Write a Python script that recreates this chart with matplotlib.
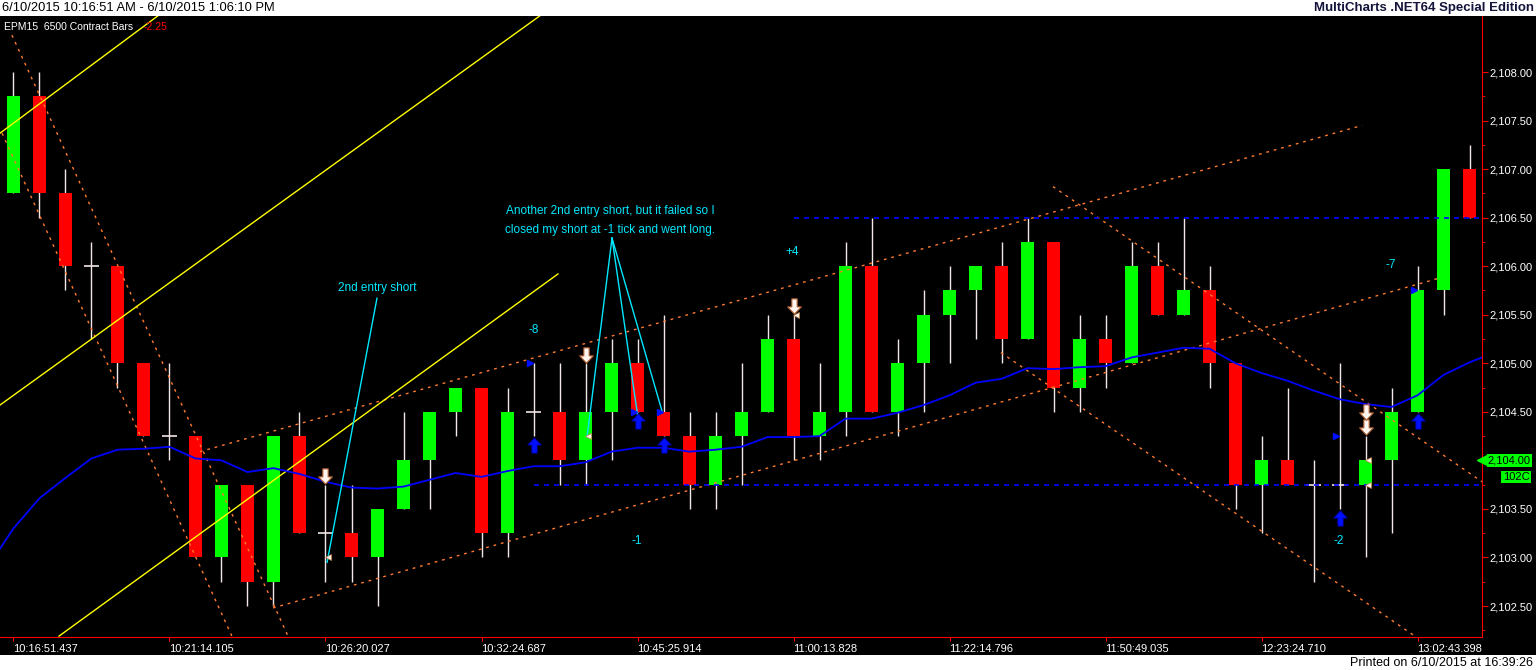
import numpy as np
import matplotlib
matplotlib.use("Agg")
import matplotlib.pyplot as plt
from matplotlib.path import Path
from matplotlib.patches import Rectangle
from matplotlib.ticker import FixedLocator, FuncFormatter

plt.rcParams['font.family'] = ['Liberation Sans', 'DejaVu Sans']

# bar data (6500 contract bars, EPM15)
opens = [2106.75, 2107.75, 2106.75, 2106.00, 2106.00, 2105.00, 2104.25, 2104.25, 2103.00, 2103.75,
         2102.75, 2104.25, 2103.25, 2103.25, 2103.00, 2103.50, 2104.00, 2104.50, 2104.75, 2103.25,
         2104.50, 2104.50, 2104.00, 2104.50, 2105.00, 2104.50, 2104.25, 2103.75, 2104.25, 2104.50,
         2105.25, 2104.25, 2104.50, 2106.00, 2104.50, 2105.00, 2105.50, 2105.75, 2106.00, 2105.25,
         2106.25, 2104.75, 2105.25, 2105.00, 2106.00, 2105.50, 2105.75, 2105.00, 2103.75, 2104.00,
         2103.75, 2103.75, 2103.75, 2104.00, 2104.50, 2105.75, 2107.00]
highs = [2108.00, 2108.00, 2107.00, 2106.25, 2106.00, 2105.00, 2105.00, 2104.25, 2103.75, 2103.75,
         2104.25, 2104.50, 2103.75, 2103.75, 2103.50, 2104.50, 2104.50, 2104.75, 2104.75, 2104.75,
         2105.00, 2105.00, 2105.00, 2105.25, 2105.25, 2105.50, 2104.50, 2104.50, 2105.00, 2105.50,
         2105.50, 2105.00, 2106.25, 2106.50, 2105.25, 2105.75, 2106.00, 2106.00, 2106.25, 2106.50,
         2106.25, 2105.50, 2105.50, 2106.25, 2106.25, 2106.50, 2106.00, 2105.00, 2104.25, 2104.75,
         2104.00, 2105.00, 2104.25, 2104.75, 2106.00, 2107.00, 2107.25]
lows = [2106.75, 2106.50, 2105.75, 2105.25, 2104.75, 2104.25, 2104.00, 2103.00, 2102.75, 2102.50,
        2102.50, 2103.25, 2102.75, 2102.75, 2102.50, 2103.50, 2103.50, 2104.25, 2103.00, 2103.00,
        2104.25, 2103.75, 2103.75, 2104.00, 2104.50, 2104.25, 2103.50, 2103.50, 2103.75, 2104.50,
        2104.00, 2104.00, 2104.25, 2104.50, 2104.25, 2104.50, 2105.00, 2105.25, 2105.00, 2105.25,
        2104.50, 2104.50, 2104.75, 2105.00, 2105.50, 2105.50, 2104.75, 2103.50, 2103.25, 2103.75,
        2102.75, 2103.50, 2103.00, 2103.25, 2104.50, 2105.50, 2106.50]
closes = [2107.75, 2106.75, 2106.00, 2106.00, 2105.00, 2104.25, 2104.25, 2103.00, 2103.75, 2102.75,
          2104.25, 2103.25, 2103.25, 2103.00, 2103.50, 2104.00, 2104.50, 2104.75, 2103.25, 2104.50,
          2104.50, 2104.00, 2104.50, 2105.00, 2104.50, 2104.25, 2103.75, 2104.25, 2104.50, 2105.25,
          2104.25, 2104.50, 2106.00, 2104.50, 2105.00, 2105.50, 2105.75, 2106.00, 2105.25, 2106.25,
          2104.75, 2105.25, 2105.00, 2106.00, 2105.50, 2105.75, 2105.00, 2103.75, 2104.00, 2103.75,
          2103.75, 2103.75, 2104.00, 2104.50, 2105.75, 2107.00, 2106.50]

# moving average, read per bar (first/last points at chart edges)
ma_x = [-0.52] + list(range(57)) + [56.48]
ma_vals = [2103.09, 2103.30, 2103.61, 2103.82, 2104.02, 2104.11, 2104.12, 2104.14, 2104.02, 2104.00, 2103.88,
           2103.92, 2103.86, 2103.78, 2103.72, 2103.71, 2103.73, 2103.80, 2103.87, 2103.83, 2103.89,
           2103.94, 2103.94, 2103.98, 2104.09, 2104.13, 2104.13, 2104.09, 2104.11, 2104.14, 2104.24,
           2104.24, 2104.25, 2104.43, 2104.43, 2104.49, 2104.57, 2104.67, 2104.80, 2104.84, 2104.95,
           2104.94, 2104.96, 2104.97, 2105.06, 2105.11, 2105.16, 2105.15, 2105.00, 2104.90, 2104.82,
           2104.72, 2104.63, 2104.58, 2104.55, 2104.67, 2104.88, 2105.01, 2105.06]

tick_bars = [0, 6, 12, 18, 24, 30, 36, 42, 48, 54]
tick_labels = ['10:16:51.437', '10:21:14.105', '10:26:20.027', '10:32:24.687', '10:45:25.914',
               '11:00:13.828', '11:22:14.796', '11:50:49.035', '12:23:24.710', '13:02:43.398']
price_ticks = [2102.5, 2103.0, 2103.5, 2104.0, 2104.5, 2105.0, 2105.5, 2106.0, 2106.5, 2107.0,
               2107.5, 2108.0]

# trend lines (bar, price) pairs
orange_lines = [((-0.06, 2108.38), (10.56, 2102.19)),
                ((-0.44, 2107.37), (8.40, 2102.19)),
                ((7.17, 2104.09), (51.87, 2107.45)),
                ((9.98, 2102.48), (54.87, 2105.88)),
                ((39.98, 2106.82), (56.48, 2103.78)),
                ((37.98, 2105.11), (53.90, 2102.19))]
yellow_lines = [((-0.52, 2107.37), (5.56, 2108.58)),
                ((-0.52, 2104.57), (20.25, 2108.58)),
                ((1.75, 2102.19), (20.94, 2105.92))]
hlines_blue = [(30, 2106.50), (20, 2103.75)]

# trade markers
buy_bars = [20, 24, 25, 51, 54]
sell_bars = [12, 22, 30, 52]
sell_extra = [52]
exit_short = [(12, 2103.00), (22, 2104.25), (30, 2105.50), (52, 2104.00), (52, 2103.75)]
entry_marks = [(20, 2105.00), (24, 2104.50), (25, 2104.50), (51, 2104.25), (54, 2105.75)]
pnl_text = [(20.0, 2105.34, '-8'), (29.94, 2106.15, '+4'), (23.98, 2103.17, '-1'),
            (52.98, 2106.01, '-7'), (50.98, 2103.17, '-2')]

fig = plt.figure(figsize=(15.36, 6.70), dpi=100, facecolor='black')
ax = fig.add_axes([0, 33 / 670, 1482 / 1536, 621 / 670])
ax.set_facecolor('black')

x = np.arange(len(opens))
o = np.array(opens); c = np.array(closes); h = np.array(highs); l = np.array(lows)
wick_col = '#f2e6e6'
ax.vlines(x, l, h, color=wick_col, lw=1, zorder=1)
up = c > o
dn = c < o
eq = c == o
ax.bar(x[up], (c - o)[up], bottom=o[up], width=0.5, color='#00ff00', zorder=2)
ax.bar(x[dn], (o - c)[dn], bottom=c[dn], width=0.5, color='#ff0000', zorder=2)
ax.hlines(c[eq], x[eq] - 0.27, x[eq] + 0.27, color=wick_col, lw=1.2, zorder=2)

for (p1, p2) in orange_lines:
    ax.plot([p1[0], p2[0]], [p1[1], p2[1]], color='#ff7a30', lw=1, ls=(0, (2, 3.5)), zorder=3)
for (p1, p2) in yellow_lines:
    ax.plot([p1[0], p2[0]], [p1[1], p2[1]], color='#ffff00', lw=1, zorder=3)
for b, p in hlines_blue:
    ax.plot([b, 56.48], [p, p], color='#0000ff', lw=1.2, ls=(0, (3, 3)), zorder=3)

ax.plot(ma_x, ma_vals, color='#0000ff', lw=1.3, zorder=4)

# annotations
cy = '#00e8ff'
ax.text(13.98, 2105.78, '2nd entry short', color=cy, fontsize=8.5, ha='center', va='center', zorder=6)
ax.plot([13.98, 12.06], [2105.67, 2102.95], color=cy, lw=1, zorder=6)
ax.text(22.94, 2106.57, 'Another 2nd entry short, but it failed so I', color=cy, fontsize=8.5,
        ha='center', va='center', zorder=6)
ax.text(22.94, 2106.37, 'closed my short at -1 tick and went long.', color=cy, fontsize=8.5,
        ha='center', va='center', zorder=6)
for ex, ey in [(22.06, 2104.24), (24.0, 2104.47), (24.94, 2104.51)]:
    ax.plot([23.02, ex], [2106.29, ey], color=cy, lw=1, zorder=6)
for tx, ty, s in pnl_text:
    ax.text(tx, ty, s, color=cy, fontsize=8.5, ha='center', va='center', zorder=6)

arrow_up = Path([(0, 1), (0.9, 0.05), (0.35, 0.05), (0.35, -1), (-0.35, -1), (-0.35, 0.05),
                 (-0.9, 0.05), (0, 1)], closed=True)
arrow_dn = Path([(0, -1), (0.9, -0.05), (0.35, -0.05), (0.35, 1), (-0.35, 1), (-0.35, -0.05),
                 (-0.9, -0.05), (0, -1)], closed=True)
ax.plot(x[buy_bars], l[buy_bars] - 0.09, ls='none', marker=arrow_up, ms=11,
        mfc='#0010ff', mec='#0000a0', mew=0.6, zorder=7)
ax.plot(x[sell_bars], h[sell_bars] + 0.09, ls='none', marker=arrow_dn, ms=11,
        mfc='#fff4f0', mec='#b06030', mew=0.8, zorder=7)
ax.plot(x[sell_extra], h[sell_extra] + 0.25, ls='none', marker=arrow_dn, ms=11,
        mfc='#fff4f0', mec='#b06030', mew=0.8, zorder=7)
ax.plot([b + 0.1 for b, p in exit_short], [p for b, p in exit_short], ls='none', marker='<', ms=5,
        mfc='#fff4f0', mec='#c08040', mew=0.5, zorder=7)
ax.plot([b - 0.12 for b, p in entry_marks], [p for b, p in entry_marks], ls='none', marker='>', ms=5,
        mfc='#0010ff', mec='#0010ff', zorder=7)

ax.set_xlim(-0.519, 56.48)
ax.set_ylim(2102.181, 2108.577)

for side in ['left', 'top']:
    ax.spines[side].set_visible(False)
ax.spines['right'].set_color('#ff0000')
ax.spines['bottom'].set_color('#ff0000')

ax.yaxis.tick_right()
ax.yaxis.set_major_locator(FixedLocator(price_ticks))
ax.yaxis.set_minor_locator(FixedLocator([p + 0.25 for p in price_ticks[:-1]] + [2102.25]))
ax.yaxis.set_major_formatter(FuncFormatter(lambda v, pos: f"{v:,.2f}"))
ax.tick_params(axis='y', which='major', colors='#ff0000', labelcolor='white', length=4,
               labelsize=8, pad=1)
ax.tick_params(axis='y', which='minor', colors='#ff0000', length=2)
ax.set_xticks(tick_bars)
ax.set_xticklabels(tick_labels)
for t in ax.get_xticklabels():
    t.set_horizontalalignment('left')
ax.tick_params(axis='x', colors='#ff0000', labelcolor='white', length=3, labelsize=8, pad=2)

# last price label
tr = ax.get_yaxis_transform()
ax.plot([1.0], [2104.00], transform=tr, marker='<', ms=7, color='#00ff00', clip_on=False, zorder=8)
ax.text(1.004, 2104.00, '2,104.00', transform=tr, fontsize=8, color='black', ha='left', va='center',
        bbox=dict(boxstyle='square,pad=0.12', fc='#00ff00', ec='none'), clip_on=False, zorder=8)
ax.text(1.014, 2103.83, '102C', transform=tr, fontsize=8, color='black', ha='left', va='center',
        bbox=dict(boxstyle='square,pad=0.12', fc='#00ff00', ec='none'), clip_on=False, zorder=8)

ax.text(0.003, 0.982, 'EPM15  6500 Contract Bars', transform=ax.transAxes, color='white',
        fontsize=7.5, ha='left', va='center')
ax.text(0.097, 0.982, '-2.25', transform=ax.transAxes, color='#ff0000', fontsize=7.5,
        ha='left', va='center')

# white header and footer strips
fig.patches.append(Rectangle((0, 1 - 16 / 670), 1, 16 / 670, transform=fig.transFigure,
                             fc='white', ec='none', zorder=0))
fig.patches.append(Rectangle((0, 0), 1, 15 / 670, transform=fig.transFigure,
                             fc='white', ec='none', zorder=0))
fig.text(0.001, 1 - 8 / 670, '6/10/2015 10:16:51 AM - 6/10/2015 1:06:10 PM', fontsize=9.3,
         color='black', ha='left', va='center')
fig.text(0.999, 1 - 8 / 670, 'MultiCharts .NET64 Special Edition', fontsize=9.5, fontweight='bold',
         color='#14143c', ha='right', va='center')
fig.text(0.998, 7 / 670, 'Printed on 6/10/2015 at 16:39:26', fontsize=9, color='black',
         ha='right', va='center')

fig.savefig('out.png', dpi=100, facecolor='black')
